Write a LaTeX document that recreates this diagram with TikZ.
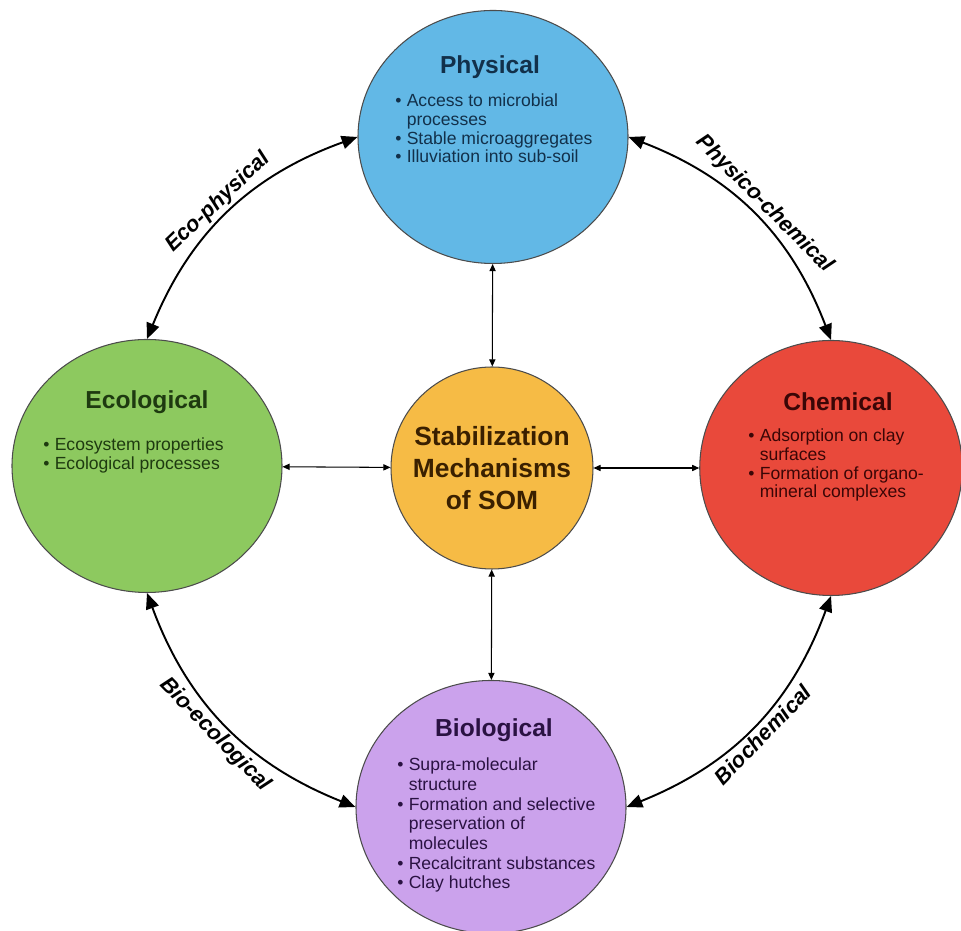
\documentclass[tikz,border=0pt]{standalone}
\usepackage{fontspec}
\setmainfont{Liberation Sans}
\usetikzlibrary{shapes.geometric,arrows.meta}
\definecolor{physblue}{HTML}{62B8E6}
\definecolor{ecogreen}{HTML}{8DC95F}
\definecolor{chemred}{HTML}{E9493B}
\definecolor{biopurple}{HTML}{CBA2EC}
\definecolor{somorange}{HTML}{F6BB45}
\definecolor{physink}{HTML}{12304A}
\definecolor{ecoink}{HTML}{1E3A10}
\definecolor{chemink}{HTML}{3A0606}
\definecolor{bioink}{HTML}{2A1242}
\definecolor{somink}{HTML}{3A2000}
\newcommand\bul{\textbullet &}
\newcommand\blist[1]{\begin{tabular}{@{}l@{\hspace{3pt}}l@{}}#1\end{tabular}}

\begin{document}
\begin{tikzpicture}[
    mech/.style={ellipse,draw=black!70,line width=0.6pt,minimum width=5.4cm,minimum height=5.06cm},
    core/.style={circle,draw=black!70,line width=0.6pt,minimum size=4.04cm,fill=somorange,text=somink,align=center,font=\bfseries\fontsize{15}{18}\selectfont},
    heading/.style={font=\bfseries\fontsize{14}{16}\selectfont},
    items/.style={anchor=west,inner sep=0pt,font=\fontsize{10}{10.6}\selectfont},
    link/.style={{Triangle[length=9pt,width=7.5pt]}-{Triangle[length=9pt,width=7.5pt]},line width=1.1pt,bend left=24},
    spoke/.style={{Triangle[length=4pt,width=3.5pt]}-{Triangle[length=4pt,width=3.5pt]},line width=0.6pt},
    arclabel/.style={midway,sloped,font=\bfseries\itshape\fontsize{12.4}{14}\selectfont,inner sep=2pt}
  ]
  \useasboundingbox (0,0) rectangle (19.22,18.62);

  % the four mechanisms and the centre
  \node[mech,fill=physblue] (phys) at (9.86,15.88) {};
  \node[mech,fill=ecogreen] (eco) at (2.94,9.30) {};
  \node[mech,fill=chemred,minimum width=5.25cm,minimum height=5.1cm] (chem) at (16.62,9.26) {};
  \node[mech,fill=biopurple] (bio) at (9.82,2.48) {};
  \node[core] (som) at (9.84,9.26) {Stabilization\\Mechanisms\\of SOM};

  % headings and bullet lists
  \node[heading,text=physink] at ([shift={(-0.06,1.40)}]phys.center) {Physical};
  \node[items,text=physink] at ([shift={(-1.96,0.12)}]phys.center) {\blist{
      \bul Access to microbial\\
      & processes\\
      \bul Stable microaggregates\\
      \bul Illuviation into sub-soil}};

  \node[heading,text=ecoink] at ([shift={(0,1.28)}]eco.center) {Ecological};
  \node[items,text=ecoink] at ([shift={(-2.08,0.20)}]eco.center) {\blist{
      \bul Ecosystem properties\\
      \bul Ecological processes}};

  \node[heading,text=chemink] at ([shift={(0.14,1.32)}]chem.center) {Chemical};
  \node[items,text=chemink] at ([shift={(-1.66,0.04)}]chem.center) {\blist{
      \bul Adsorption on clay\\
      & surfaces\\
      \bul Formation of organo-\\
      & mineral complexes}};

  \node[heading,text=bioink] at ([shift={(0.06,1.54)}]bio.center) {Biological};
  \node[items,text=bioink,font=\fontsize{10}{11.2}\selectfont] at ([shift={(-1.88,-0.38)}]bio.center) {\blist{
      \bul Supra-molecular\\
      & structure\\
      \bul Formation and selective\\
      & preservation of\\
      & molecules\\
      \bul Recalcitrant substances\\
      \bul Clay hutches}};

  % links round the ring
  \draw[link] (eco.north) to node[arclabel,above] {Eco-physical} (phys.west);
  \draw[link] (phys.east) to node[arclabel,above] {Physico-chemical} (chem.north);
  \draw[link] (chem.south) to node[arclabel,below] {Biochemical} (bio.east);
  \draw[link] (bio.west) to node[arclabel,below] {Bio-ecological} (eco.south);

  % spokes to the centre
  \draw[spoke] (som) -- (phys);
  \draw[spoke] (som) -- (eco);
  \draw[spoke] (som) -- (chem);
  \draw[spoke] (som) -- (bio);
\end{tikzpicture}
\end{document}
